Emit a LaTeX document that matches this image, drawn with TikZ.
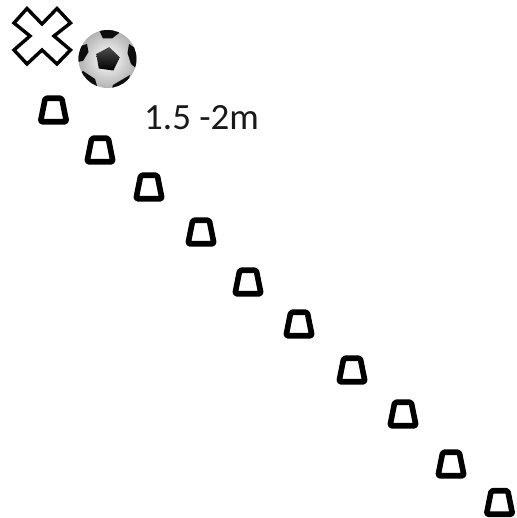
\documentclass[tikz,border=0pt]{standalone}
\usepackage{fontspec}
\setmainfont{Carlito}
\usetikzlibrary{shapes.geometric}
\begin{document}
\begin{tikzpicture}[
                x=1pt,y=-1pt,
                cone/.style={trapezium,draw=black,fill=white,line width=5.6pt,line join=round,rounded corners=1.5pt,
                    trapezium left angle=74,trapezium right angle=74,trapezium stretches=true,
                    minimum width=26pt,minimum height=23.5pt,inner sep=1pt},
                ballbase/.style={circle,minimum size=58pt,inner sep=0pt,inner color=white,outer color=black!30},
                patch/.style={fill=black!95,draw=none},
                cross/.style={draw=black,fill=white,line width=3.4pt,line join=miter}
            ]
                \useasboundingbox (0,0) rectangle (516,518);
                % Cones along the diagonal
                \foreach \n/\x/\y in {1/53.5/110,2/100/150,3/149/187,4/201/232,5/248/282,6/299/324,7/352/370,8/403/414,9/451/464,10/499.5/502.5} {
                    \node[cone] (cone\n) at (\x,\y) {};
                }
                % Cross marker
                \draw[cross] (42,24)--(57,8.5)--(70.5,23)--(54,36)--(70.5,50)--(57,64)--(42,50)--(27,64)--(14,50)--(30,36)--(14,23)--(27,8.5)--cycle;
                % Ball
                \node[ballbase,shade] (ball) at (107.5,59) {};
                \begin{scope}
                    \clip (ball.center) circle (29);
                    \node[regular polygon,regular polygon sides=5,minimum size=25pt,inner sep=0pt,shape border rotate=-8,
                        top color=black!70,bottom color=black] (spot) at (107.5,59.5) {};
                    \fill[patch] (99,30)--(118,29)--(119,33)--(112,38.5)--(103,38.5)--cycle;
                    \fill[patch] (129,44)--(138,50)--(138,70)--(131,64)--(127.5,53)--cycle;
                    \fill[patch] (130,75)--(126,89)--(111,91)--(113,85)--cycle;
                    \fill[patch] (83,71)--(95,79)--(98,89)--(85,87)--(78,76)--cycle;
                    \fill[patch] (87,44)--(78,47)--(77,62)--(83,61)--(88.5,52)--cycle;
                \end{scope}
                % Distance label
                \node[anchor=base west,inner sep=0pt,font=\fontsize{37}{40}\selectfont,text=black!90] (dist) at (144,130) {1.5 -2m};
            \end{tikzpicture}
\end{document}
